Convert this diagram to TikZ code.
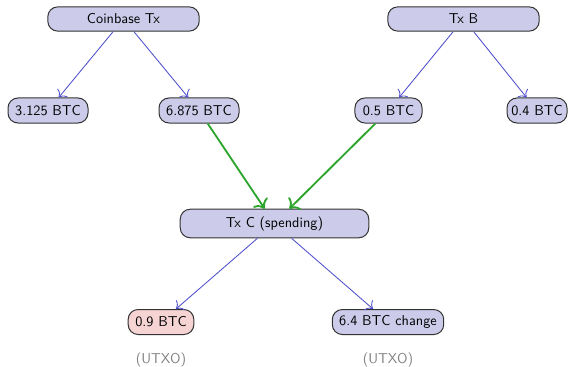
\documentclass[tikz,border=0pt]{standalone}
\usepackage{fontspec}
\renewcommand{\familydefault}{\sfdefault}
\usetikzlibrary{arrows.meta}
\definecolor{boxfill}{RGB}{204,204,234}
\definecolor{redfill}{RGB}{246,212,212}
\definecolor{edgeblue}{RGB}{80,80,205}
\definecolor{edgegreen}{RGB}{45,165,45}
\definecolor{utxogray}{RGB}{130,130,130}
\tikzset{
  txbox/.style={draw=black!80, fill=boxfill, rounded corners=7pt, line width=0.7pt, minimum height=17pt, inner sep=0pt, font=\sffamily},
  outbox/.style={txbox, minimum height=17.5pt},
  bluearrow/.style={draw=edgeblue, line width=0.6pt, -{To[scale=1.5]}},
  greenarrow/.style={draw=edgegreen, line width=1.3pt, -{To[scale=1.3]}},
  note/.style={text=utxogray, font=\sffamily}
}
\begin{document}
\begin{tikzpicture}[x=0.7pt, y=-0.7pt]
\useasboundingbox (0,0) rectangle (571,366);
\node[txbox, minimum width=106pt] (cb) at (123.5,19) {Coinbase Tx};
\node[txbox, minimum width=106pt] (txb) at (463.5,19) {Tx B};
\node[outbox, minimum width=56pt] (o1) at (48,110.5) {3.125 BTC};
\node[outbox, minimum width=56pt] (o2) at (199,110.5) {6.875 BTC};
\node[outbox, minimum width=47pt] (o3) at (388.5,110.5) {0.5 BTC};
\node[outbox, minimum width=42pt] (o4) at (537,110.5) {0.4 BTC};
\node[txbox, minimum width=132pt, minimum height=20pt] (txc) at (274.5,223.5) {Tx C (spending)};
\node[outbox, fill=redfill, minimum width=46pt] (p1) at (161,322) {0.9 BTC};
\node[outbox, minimum width=78pt] (p2) at (388,322) {6.4 BTC change};
\node[note] (u1) at (161,359.5) {(UTXO)};
\node[note] (u2) at (388,359.5) {(UTXO)};
\draw[bluearrow] (cb) -- (o1);
\draw[bluearrow] (cb) -- (o2);
\draw[bluearrow] (txb) -- (o3);
\draw[bluearrow] (txb) -- (o4);
\draw[greenarrow] (o2) -- (txc);
\draw[greenarrow] (o3) -- (txc);
\draw[bluearrow] (txc) -- (p1);
\draw[bluearrow] (txc) -- (p2);
\end{tikzpicture}
\end{document}
